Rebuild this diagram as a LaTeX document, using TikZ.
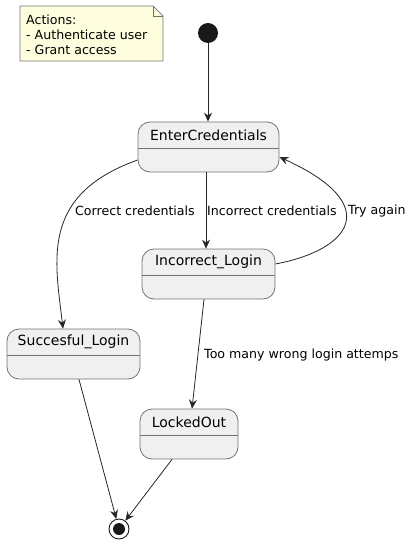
\documentclass[tikz,border=0pt]{standalone}
\usepackage{fontspec}
\setmainfont{DejaVu Sans}
\usetikzlibrary{arrows.meta,calc}
\begin{document}
\begin{tikzpicture}[x=1pt,y=-1pt,
  statebox/.style={draw=black!55,fill=black!6,rounded corners=12pt,line width=0.8pt,inner sep=0pt},
  title/.style={font=\fontsize{14}{16}\selectfont,inner sep=0pt,anchor=center},
  lbl/.style={font=\fontsize{12.6}{15}\selectfont,inner sep=0pt,anchor=west},
  conn/.style={draw=black!85,line width=0.8pt,-{Stealth[length=9pt,width=8pt,inset=3pt]}},
]
\useasboundingbox (0,0) rectangle (414,545);
% note
\draw[draw=black!55,fill={rgb,255:red,254;green,254;blue,222},line width=0.7pt]
  (20,6) -- (153,6) -- (163,16) -- (163,61) -- (20,61) -- cycle;
\draw[draw=black!55,line width=0.7pt] (153,6) -- (153,16) -- (163,16);
\node[lbl,anchor=north west,align=left,font=\fontsize{12.6}{15}\selectfont] (note) at (26,15)
  {Actions:\\- Authenticate user\\- Grant access};
% initial
\node[circle,fill=black!90,minimum size=20pt,inner sep=0pt] (init) at (208,33) {};
% states
\node[statebox,minimum width=141pt,minimum height=50pt] (ec) at (208.5,147) {};
\node[title] (ect) at (208.5,135) {EnterCredentials};
\draw[draw=black!55,line width=0.8pt] (138,148.5) -- (279,148.5);

\node[statebox,minimum width=133pt,minimum height=50pt] (il) at (208.5,274) {};
\node[title] (ilt) at (208.5,262) {Incorrect\_Login};
\draw[draw=black!55,line width=0.8pt] (142,275) -- (275,275);

\node[statebox,minimum width=133pt,minimum height=50pt] (sl) at (73.5,354) {};
\node[title] (slt) at (73.5,342) {Succesful\_Login};
\draw[draw=black!55,line width=0.8pt] (7,355) -- (140,355);

\node[statebox,minimum width=98pt,minimum height=50pt] (lo) at (189,434) {};
\node[title] (lot) at (189,422) {LockedOut};
\draw[draw=black!55,line width=0.8pt] (140,435) -- (238,435);

% final
\node[circle,draw=black!90,line width=0.9pt,minimum size=20pt,inner sep=0pt] (fin) at (119,529) {};
\node[circle,fill=black!90,minimum size=12pt,inner sep=0pt] (fini) at (119,529) {};

% connectors
\draw[conn] (init) -- (ec.north -| init);
\draw[conn] (ec.west |- 0,160) .. controls (40,195) and (55,260) .. (sl.north -| 63,0);
\node[lbl] (l1) at (75,211) {Correct credentials};
\draw[conn] (ec.south -| 206,0) -- (il.north -| 206,0);
\node[lbl] (l2) at (207,211) {Incorrect credentials};
\draw[conn] (il.east |- 0,264) .. controls (350,250) and (385,205) .. (ec.east |- 0,157);
\node[lbl] (l3) at (348,211) {Try again};
\draw[conn] (il.south -| 204,0) -- (lo.north -| 192,0);
\node[lbl] (l4) at (204,355) {Too many wrong login attemps};
\draw[conn] (sl.south -| 79,0) -- (fin);
\draw[conn] (lo.south -| 172,0) -- (fin);
\end{tikzpicture}
\end{document}
